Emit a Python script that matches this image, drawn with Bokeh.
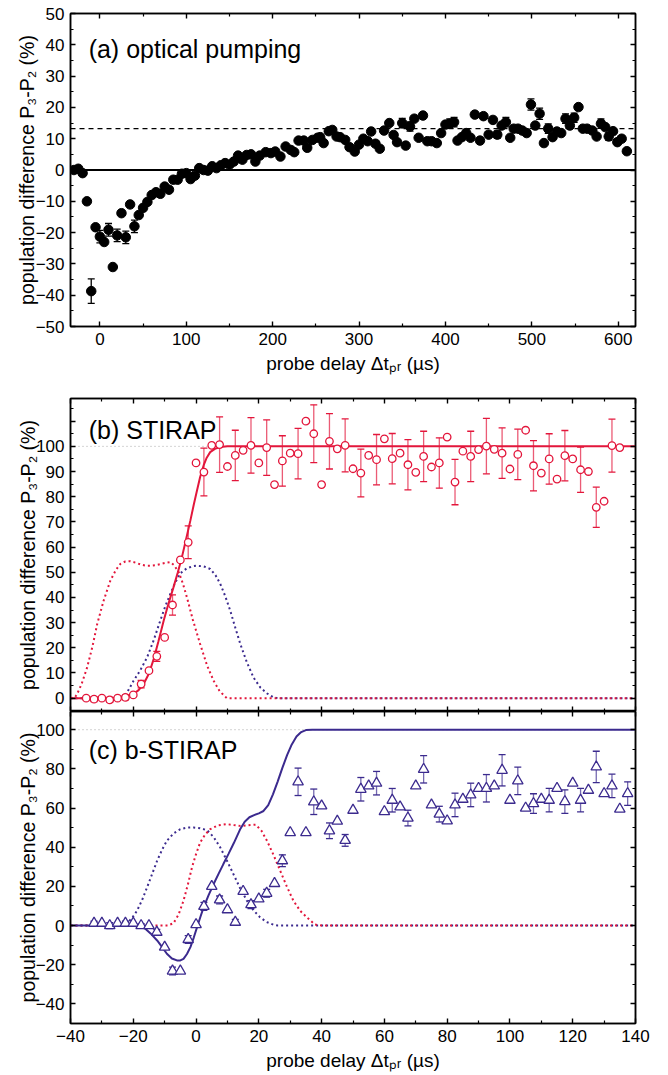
from bokeh.plotting import figure
from bokeh.models import (ColumnDataSource, Whisker, TeeHead, Label, LinearAxis,
                          FixedTicker, CustomJSTickFormatter, Range1d, Span)
from bokeh.layouts import column
from bokeh.embed import file_html
from bokeh.resources import INLINE

# ---------------- data: panel (a) optical pumping ----------------
A_X = [-30, -25, -20, -15, -10, -5, 0, 5, 10, 15, 20, 25, 30, 35, 40, 45, 50, 55, 60, 65,
       70, 75, 80, 85, 90, 95, 100, 105, 110, 115, 120, 125, 130, 135, 140, 145, 150, 155,
       160, 165, 170, 175, 180, 185, 192, 198, 203, 209, 215, 221, 225, 230, 236, 240, 246,
       252, 255, 259, 265, 269, 274, 278, 284, 289, 295, 300, 305, 310, 314, 319, 324, 329,
       335, 340, 344, 350, 354, 359, 364, 369, 374, 379, 384, 390, 395, 400, 405, 410, 414,
       419, 424, 429, 434, 440, 444, 450, 455, 460, 465, 470, 475, 479, 484, 489, 494, 499,
       504, 509, 514, 519, 524, 529, 534, 539, 544, 549, 554, 559, 564, 570, 575, 580, 585,
       589, 594, 599, 604, 610]
A_Y = [0.0, 0.4, -1.0, -10.0, -38.7, -18.3, -21.3, -23.0, -19.1, -31.0, -20.9, -13.8, -21.5,
       -11.0, -18.0, -14.4, -12.1, -10.2, -8.0, -7.1, -7.6, -5.3, -6.3, -3.1, -3.1, -1.2, -1.0,
       -2.9, -1.8, 0.6, 0.0, -0.2, 1.2, 0.6, 1.5, 2.2, 1.7, 2.7, 4.6, 3.3, 4.8, 5.0, 2.7, 4.6,
       5.7, 5.4, 5.9, 4.3, 7.5, 6.4, 5.7, 9.4, 9.4, 7.1, 9.6, 10.3, 10.5, 8.6, 12.4, 12.8,
       10.7, 10.5, 9.6, 7.3, 5.9, 8.1, 10.0, 9.2, 12.3, 8.4, 6.8, 12.6, 15.0, 11.2, 8.9, 15.0,
       7.8, 13.9, 16.4, 10.3, 17.4, 9.2, 9.2, 8.6, 11.8, 14.5, 14.8, 15.3, 9.4, 10.5, 11.8,
       10.3, 17.7, 9.4, 17.2, 11.3, 16.0, 11.3, 14.2, 15.3, 10.3, 13.2, 13.2, 12.6, 11.8, 20.9,
       14.2, 18.0, 8.6, 13.2, 10.5, 12.3, 11.8, 16.4, 14.2, 16.7, 20.1, 13.2, 13.2, 12.6, 10.7,
       14.8, 13.7, 10.7, 12.4, 8.9, 10.0, 6.0]
A_ERR_X = [-10, 0, 10, 20, 30, 40, 350, 359, 405, 410, 424, 460, 470, 499, 509, 519, 539, 549, 580, 589]
A_ERR = [3.9, 2.0, 2.0, 2.0, 2.0, 2.0, 1.5, 1.5, 1.5, 1.5, 1.2, 1.2, 1.5, 1.8, 1.8, 1.5, 1.5, 1.5, 1.5, 1.2]
A_SATURATION = 13.2
A_BASELINE = 0

# ---------------- data: panel (b) STIRAP ----------------
B_X = [-35, -32.5, -30, -27.5, -25, -22.5, -20, -17.5, -15, -12.5, -10, -7.5, -5, -2.5, 0,
       2.5, 5, 7.5, 10, 12.5, 15, 17.5, 20, 22.5, 25, 27.5, 30, 32.5, 35, 37.5, 40, 42.5, 45,
       47.5, 50, 52.5, 55, 57.5, 60, 62.5, 65, 67.5, 70, 72.5, 75, 77.5, 80, 82.5, 85, 87.5,
       90, 92.5, 95, 97.5, 100, 102.5, 105, 107.5, 110, 112.5, 115, 117.5, 120, 122.5, 125,
       127.5, 130, 132.5, 135]
B_Y = [0, -0.4, 0, -0.7, 0, 0.3, 1.3, 5.6, 10.9, 16.6,
       24.1, 37, 54.9, 61.9, 93.4, 89.8, 100.4, 100.7, 92, 96.4,
       98.4, 100.4, 93.4, 99.5, 84.8, 94.2, 97.3, 97.1, 110, 105,
       84.8, 102, 99, 100.4, 91.1, 89.4, 96.4, 94.7, 103, 95.1,
       97.3, 92.7, 89.7, 96, 91.8, 93.4, 103.7, 85.8, 98.1, 96,
       98.7, 100.1, 98.8, 97.3, 91, 96.8, 106.4, 92.3, 89.4, 95,
       87, 96.3, 95, 90.7, 90, 75.8, 78.2, 100.3, 99.5]
B_ERR = [0, 1, 0, 1, 0, 1, 0, 1.5, 0, 2,
         0, 4, 0, 6.5, 0, 9.5, 0, 11, 0, 10,
         0, 11, 0, 11, 0, 10, 0, 10, 0, 11.5,
         0, 11, 0, 10.5, 0, 9.5, 0, 10, 0, 10,
         0, 10, 0, 10, 0, 10, 0, 9, 0, 10,
         0, 11, 0, 10, 0, 10, 0, 10, 0, 10,
         0, 10, 0, 9, 0, 8, 0, 10.5, 0]
B_FIT_X = [-40, -30, -25, -22, -20, -18.3, -16.7, -15, -13.5, -12, -10.3, -8.8, -7.2, -5.8,
           -4.5, -3.1, -1.8, -0.7, 0.3, 1.3, 2.4, 3.4, 4.5, 6, 7.7, 10, 12, 140]
B_FIT_Y = [0, 0, 0.2, 0.7, 1.6, 3.2, 5.6, 9.8, 15.5, 22.5, 30.8, 37.5, 44, 50,
           56, 63.5, 70.6, 77, 82.5, 87.8, 92.4, 95.5, 97.7, 99, 99.7, 100, 100, 100]
B_STOKES_X = [-40, -38.5, -37.9, -36.5, -34.7, -33, -31.5, -29.5, -27.3, -25.5, -24.1, -22.5,
              -20.9, -19, -17.5, -16, -14.6, -13, -11.5, -9.8, -8.2, -7, -5.5, -4.2, -2.9, -1,
              1.3, 3.5, 5.6, 7.5, 9.8, 140]
B_STOKES_Y = [0, 0.5, 1.6, 5.5, 12.2, 20.5, 29.4, 38.5, 46.7, 51, 53.3, 54.3,
              54.4, 53.7, 53, 52.6, 52.6, 52.8, 53.2, 53.7, 54, 52.8, 50, 45.5, 40, 31,
              21.5, 13, 6.9, 2.8, 0, 0]
B_PUMP_X = [-40, -25, -23, -21.5, -19.9, -17.8, -15.6, -13.5, -11.4, -9.8, -8.2, -6.6, -5, -3,
            -1, 0.3, 2.5, 4.5, 6.2, 7.7, 9.3, 10.9, 12.5, 14.1, 16.2, 18.3, 20.5, 22.6, 24.7,
            26, 140]
B_PUMP_Y = [0, 0, 0.9, 3.3, 6.9, 11, 16.2, 23, 30.8, 36.5, 41.4, 46, 49.6, 51.5,
            52.4, 52.6, 52.3, 51.3, 48.8, 45.4, 40.5, 34.7, 28, 21.5, 14.2, 8.2, 4.2, 1.9, 0.3,
            0, 0]

# ---------------- data: panel (c) b-STIRAP ----------------
C_X = [-32.5, -30, -27.5, -25, -22.5, -20, -17.5, -15, -12.5, -10, -7.5, -5, -2.5, 0, 2.5,
       5, 7.5, 10, 12.5, 15, 17.5, 20, 22.5, 25, 27.5, 30, 32.5, 35, 37.5, 40, 42.5, 45,
       47.5, 50, 52.5, 55, 57.5, 60, 62.5, 65, 67.5, 70, 72.5, 75, 77.5, 80, 82.5, 85, 87.5,
       90, 92.5, 95, 97.5, 100, 102.5, 105, 107.5, 110, 112.5, 115, 117.5, 120, 122.5, 125,
       127.5, 130, 132.5, 135, 137.5]
C_Y = [1.2, 1.2, 0, 1.2, 1.2, 1.2, 0, 0, -3.4, -11,
       -23.2, -23.2, -7.1, 0.5, 9.8, 20, 13.1, 8.1, 1.7, 17.5,
       10.7, 13.6, 16.5, 21.5, 33.1, 47.5, 73.4, 47.5, 63.2, 61.1,
       48.4, 53.3, 43.5, 58.9, 69.6, 71.3, 72.7, 58.2, 64, 60.6,
       54.9, 71.3, 79.8, 61.6, 56.9, 53.5, 61.6, 64.5, 66.7, 70.1,
       70.1, 71.3, 79.3, 64, 73.9, 60, 62.3, 64.5, 64, 70.1,
       63.3, 72.7, 64, 69.1, 81, 67.4, 71.3, 59.5, 67.4]
C_ERR = [1, 0, 1.5, 0, 1, 0, 1, 0, 1.5, 0,
         2, 0, 2, 0, 2, 0, 2, 0, 1.5, 0,
         2, 0, 2, 0, 3, 0, 7, 0, 6.5, 0,
         4, 0, 3, 0, 6, 0, 6, 0, 6, 0,
         4, 0, 7, 0, 4, 0, 6, 0, 6, 0,
         7, 0, 8, 0, 7, 0, 5, 0, 6, 0,
         6, 0, 6, 0, 8, 0, 6, 0, 6]
C_FIT_X = [-40, -18, -16.7, -14.5, -12.4, -10.8, -9.3, -7.7, -6.1, -5, -4, -2.9, -1.8, -0.7,
           0.3, 1.4, 2.4, 4, 5.6, 7.2, 8.7, 10.3, 12, 14, 15.5, 17, 18.5, 20, 21.5, 23, 24.5,
           26, 27.5, 29, 30.5, 32, 33.5, 35, 37, 140]
C_FIT_Y = [0, 0, -0.8, -4, -7.6, -11, -14.4, -16.8, -17.8, -17.8, -17, -14.5, -11, -6,
           -0.9, 4.5, 9.3, 15.5, 21.2, 26.5, 31.4, 36.5, 42, 49, 53, 55.3, 56.4, 57.3, 58.5,
           61.5, 67, 73.5, 80.5, 87, 92.5, 96.5, 98.8, 99.8, 100, 100]
C_PUMP_X = [-40, -25, -23.5, -22, -20.4, -18.8, -17.2, -15.6, -14, -12.4, -10.8, -9.3, -7.2,
            -5, -2.9, -0.8, 1.3, 3.5, 5.6, 7.7, 9.8, 11.9, 14, 16.2, 18.3, 20.4, 22.5, 24.7,
            26, 140]
C_PUMP_Y = [0, 0, 0.4, 1.2, 3.8, 7.6, 13, 19.5, 26.3, 33.1, 38.8, 43.3, 47,
            49.2, 50, 50.1, 49.7, 48.7, 45.2, 39.9, 33.3, 26.3, 19.2, 12.7, 7.8, 4.2, 1.8, 0.4,
            0, 0]
C_STOKES_X = [-40, -9, -7.2, -5.6, -4, -2.6, -1.3, 0, 1.3, 2.9, 4.5, 7, 9.8, 12, 14.1, 16.5,
              19, 20.8, 22.6, 24.7, 26.8, 28.9, 31, 33.2, 35.3, 37.9, 40, 140]
C_STOKES_Y = [0, 0, 1.2, 5.5, 12.7, 21, 29.7, 36.5, 42.4, 46.5, 49.2, 51.2, 51.8, 51.3, 50.9,
              51.2, 51.5, 48.5, 43.3, 36, 28, 20, 12.7, 7.5, 4.2, 0.5, 0, 0]
FULL_TRANSFER = 100

# ---------------- ticks / labels ----------------
A_XTICKS = [0, 100, 200, 300, 400, 500, 600]
A_XMINOR = [50, 150, 250, 350, 450, 550]
A_YTICKS = [-50, -40, -30, -20, -10, 0, 10, 20, 30, 40, 50]
A_YMINOR = [-45, -35, -25, -15, -5, 5, 15, 25, 35, 45]
BC_XTICKS = [-40, -20, 0, 20, 40, 60, 80, 100, 120, 140]
BC_XMINOR = [-30, -10, 10, 30, 50, 70, 90, 110, 130]
B_YTICKS = [0, 10, 20, 30, 40, 50, 60, 70, 80, 90, 100, 110]
B_YMINOR = [-5, 5, 15, 25, 35, 45, 55, 65, 75, 85, 95, 105, 115]
C_YTICKS = [-40, -20, 0, 20, 40, 60, 80, 100]
C_YMINOR = [-50, -30, -10, 10, 30, 50, 70, 90, 110]
Y_LABEL = "population difference P\u2083-P\u2082 (%)"
X_LABEL = "probe delay \u0394t\u209a\u1d63 (\u00b5s)"

FONT = "Liberation Sans"
RED = "#e3163b"
BLUE = "#3b2a8e"


def make_fig(height, xr, yr, top, bottom):
    p = figure(width=668, height=height, x_range=Range1d(*xr), y_range=Range1d(*yr),
               x_axis_location=None, y_axis_location=None, toolbar_location=None,
               output_backend="svg", min_border_left=70, min_border_right=33,
               min_border_top=top, min_border_bottom=bottom)
    p.grid.visible = False
    p.outline_line_color = "black"
    p.outline_line_width = 1.5
    p.background_fill_color = "white"
    p.border_fill_color = "white"
    return p


def add_axis(p, place, ticks, minor, labels=False, label=None, standoff=4, overrides=None):
    ax = LinearAxis(ticker=FixedTicker(ticks=ticks, minor_ticks=minor))
    ax.major_tick_in = 5
    ax.major_tick_out = 0
    ax.minor_tick_in = 3
    ax.minor_tick_out = 0
    ax.axis_line_color = "black"
    ax.axis_line_width = 1.5
    ax.major_tick_line_color = "black"
    ax.major_tick_line_width = 1.4
    ax.minor_tick_line_color = "black"
    ax.minor_tick_line_width = 1.2
    if labels:
        ax.major_label_text_font = FONT
        ax.major_label_text_font_size = "17px"
        ax.major_label_text_color = "black"
        ax.major_label_standoff = 6
        if overrides:
            ax.major_label_overrides = overrides
    else:
        ax.formatter = CustomJSTickFormatter(code="return ''")
        ax.major_label_standoff = 0
        ax.major_label_text_font_size = "0px"
    if label:
        ax.axis_label = label
        ax.axis_label_text_font = FONT
        ax.axis_label_text_font_size = "19px" if place == "below" else "19.5px"
        ax.axis_label_text_font_style = "normal"
        ax.axis_label_text_color = "black"
        ax.axis_label_standoff = standoff
    p.add_layout(ax, place)
    return ax


def title(p, x, y, text):
    p.add_layout(Label(x=x, y=y, text=text, text_font=FONT, text_font_size="25px",
                       text_baseline="alphabetic", text_color="black"))


def whiskers(p, xs, ys, errs, color, head, alpha):
    sel = [(x, y, e) for x, y, e in zip(xs, ys, errs) if e > 0]
    src = ColumnDataSource(dict(x=[s[0] for s in sel],
                                lo=[s[1] - s[2] for s in sel],
                                hi=[s[1] + s[2] for s in sel]))
    w = Whisker(source=src, base="x", lower="lo", upper="hi", dimension="height",
                line_color=color, line_alpha=alpha, line_width=1.3, level="underlay",
                upper_head=TeeHead(size=head, line_color=color, line_width=1.3),
                lower_head=TeeHead(size=head, line_color=color, line_width=1.3))
    p.add_layout(w)


# ---------------- panel (a) ----------------
pa = make_fig(380, (-34, 620), (-50, 50), 13, 54)
add_axis(pa, "below", A_XTICKS, A_XMINOR, labels=True, label=X_LABEL, standoff=5)
add_axis(pa, "above", A_XTICKS, A_XMINOR)
add_axis(pa, "left", A_YTICKS, A_YMINOR, labels=True, label=Y_LABEL, standoff=-5)
add_axis(pa, "right", A_YTICKS, A_YMINOR)
pa.add_layout(Span(location=A_BASELINE, dimension="width", line_color="black",
                   line_width=2, level="underlay"))
pa.add_layout(Span(location=A_SATURATION, dimension="width", line_color="black",
                   line_width=1.3, line_dash="5 4", level="underlay"))
a_err_y = [A_Y[A_X.index(x)] for x in A_ERR_X]
whiskers(pa, A_ERR_X, a_err_y, A_ERR, "black", 7, 1.0)
pa.scatter(A_X, A_Y, marker="circle", size=9.5, color="black")
title(pa, -13, 38.5, "(a) optical pumping")

# ---------------- panel (b) ----------------
pb = make_fig(331, (-40, 140), (-5.3, 119), 18, 0)
add_axis(pb, "above", BC_XTICKS, BC_XMINOR)
add_axis(pb, "below", BC_XTICKS, BC_XMINOR)
add_axis(pb, "left", B_YTICKS, B_YMINOR, labels=True, label=Y_LABEL, standoff=-6,
         overrides={110: ""})
add_axis(pb, "right", B_YTICKS, B_YMINOR)
pb.add_layout(Span(location=FULL_TRANSFER, dimension="width", line_color="#a8a8a8",
                   line_width=1, line_dash="1 3", level="underlay"))
pb.line(B_PUMP_X, B_PUMP_Y, line_color=BLUE, line_width=2, line_dash="2 3")
pb.line(B_STOKES_X, B_STOKES_Y, line_color=RED, line_width=2, line_dash="2 3")
pb.line(B_FIT_X, B_FIT_Y, line_color=RED, line_width=2)
whiskers(pb, B_X, B_Y, B_ERR, RED, 7, 0.7)
pb.scatter(B_X, B_Y, marker="circle", size=7.5, line_color=RED, line_width=1.3,
           fill_color="white")
title(pb, -34.2, 106.4, "(b) STIRAP")

# ---------------- panel (c) ----------------
pc = make_fig(364, (-40, 140), (-50, 109.3), 0, 52)
add_axis(pc, "above", BC_XTICKS, BC_XMINOR)
add_axis(pc, "below", BC_XTICKS, BC_XMINOR, labels=True, label=X_LABEL, standoff=5)
add_axis(pc, "left", C_YTICKS, C_YMINOR, labels=True, label=Y_LABEL, standoff=-6)
add_axis(pc, "right", C_YTICKS, C_YMINOR)
pc.add_layout(Span(location=FULL_TRANSFER, dimension="width", line_color="#a8a8a8",
                   line_width=1, line_dash="1 3", level="underlay"))
pc.line(C_PUMP_X, C_PUMP_Y, line_color=BLUE, line_width=2, line_dash="2 3")
pc.line(C_STOKES_X, C_STOKES_Y, line_color=RED, line_width=2, line_dash="2 3")
pc.line(C_FIT_X, C_FIT_Y, line_color=BLUE, line_width=2)
whiskers(pc, C_X, C_Y, C_ERR, BLUE, 7, 0.7)
pc.scatter(C_X, C_Y, marker="triangle", size=10.5, line_color=BLUE, line_width=1.3,
           fill_color="white")
title(pc, -34.2, 89.5, "(c) b-STIRAP")

layout = column(pa, pb, pc, spacing=0)
open("out.html", "w").write(file_html(layout, INLINE))
